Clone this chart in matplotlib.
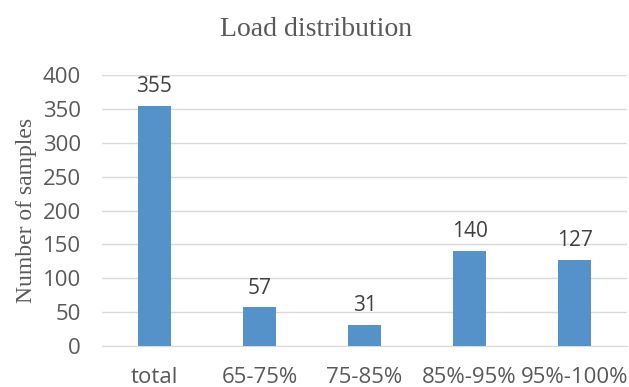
import numpy as np
import matplotlib.pyplot as plt

# chart data
categories = ["total", "65-75%", "75-85%", "85%-95%", "95%-100%"]
samples = [355, 57, 31, 140, 127]
y_ticks = [0, 50, 100, 150, 200, 250, 300, 350, 400]

fig = plt.figure(figsize=(6.29, 3.87), dpi=100)
ax = fig.add_axes([0.162, 0.106, 0.835, 0.700])

x = np.arange(len(categories))
bars = ax.bar(x, samples, width=0.32, color="#5592c9", zorder=3)

for xi, v in zip(x, samples):
    ax.text(xi, v + 13, str(v), ha="center", va="bottom",
            fontsize=15, family="Open Sans", color="#404040")

ax.set_xlim(-0.5, len(categories) - 0.5)
ax.set_ylim(0, 400)
ax.set_yticks(y_ticks)
ax.set_xticks(x)
ax.set_xticklabels(categories)
ax.grid(axis="y", color="#d9d9d9", linewidth=1.0, zorder=0)

for s in ["top", "right", "left"]:
    ax.spines[s].set_visible(False)
ax.spines["bottom"].set_color("#d9d9d9")
ax.tick_params(length=0, labelsize=16, colors="#595959")
ax.tick_params(axis="y", pad=15)
ax.tick_params(axis="x", pad=15)
for lab in ax.get_xticklabels() + ax.get_yticklabels():
    lab.set_family("Open Sans")

ax.set_ylabel("Number of samples", family="Liberation Serif", fontsize=17,
              color="#595959", labelpad=4)
fig.text(0.503, 0.925, "Load distribution", ha="center", va="center",
         family="Liberation Serif", fontsize=20, color="#595959")

plt.savefig("out.png", dpi=100)
